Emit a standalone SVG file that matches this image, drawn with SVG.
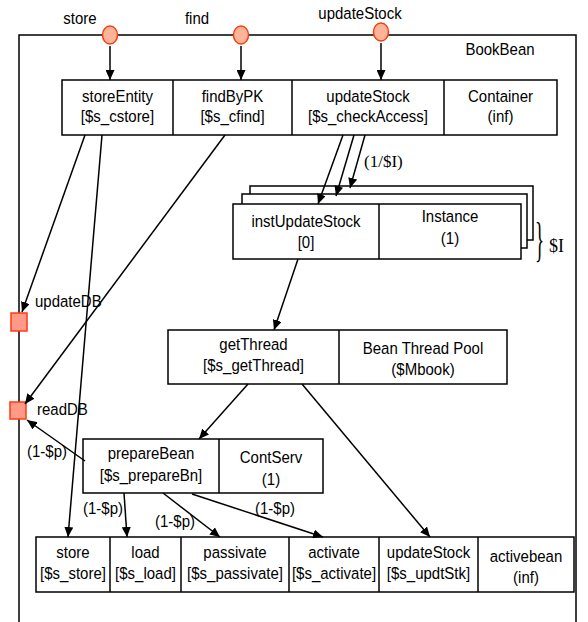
<svg xmlns="http://www.w3.org/2000/svg" width="588" height="622" viewBox="0 0 588 622">
  <defs>
    <marker id="arr" markerUnits="userSpaceOnUse" markerWidth="11" markerHeight="9" refX="10" refY="4.5" orient="auto">
      <path d="M0,0 L10,4.5 L0,9 z" fill="#000"/>
    </marker>
    <style>
      .box { fill: #fff; stroke: #000; stroke-width: 1.5; }
      .div { stroke: #000; stroke-width: 1.5; }
      .t, .tl { font-family: "Liberation Sans", Arial, sans-serif; font-size: 15px; fill: #000;
                transform-box: fill-box; transform-origin: 50% 81%; transform: scaleY(1.12); }
      .t { text-anchor: middle; }
      .s { font-family: "Liberation Serif", "Times New Roman", serif; fill: #000; }
      .port { fill: #FFB49A; stroke: #F04010; stroke-width: 1.5; }
      .db { fill: #FF9A88; stroke: #FF3A10; stroke-width: 1.5; }
      .c { fill: none; stroke: #000; stroke-width: 1.5; marker-end: url(#arr); }
    </style>
  </defs>
  <rect width="588" height="622" fill="#fff"/>

  <!-- BookBean frame -->
  <g id="bookbean">
    <path d="M19,622 V35 H576 V622" fill="none" stroke="#000" stroke-width="1.5"/>
    <text class="t" x="500" y="55">BookBean</text>
  </g>

  <!-- entry ports -->
  <g id="port-store">
    <ellipse class="port" cx="110" cy="35" rx="7.5" ry="9"/>
    <text class="t" x="80" y="24">store</text>
  </g>
  <g id="port-find">
    <ellipse class="port" cx="241" cy="35" rx="7.5" ry="9"/>
    <text class="t" x="197" y="24">find</text>
  </g>
  <g id="port-updateStock">
    <ellipse class="port" cx="381" cy="32" rx="7.5" ry="9"/>
    <text class="t" x="360" y="19">updateStock</text>
  </g>

  <!-- database requests -->
  <g id="updateDB">
    <rect class="db" x="11" y="313" width="16" height="18"/>
    <text class="tl" x="35" y="307">updateDB</text>
  </g>
  <g id="readDB">
    <rect class="db" x="10" y="402" width="16" height="17"/>
    <text class="tl" x="37" y="415">readDB</text>
  </g>

  <!-- Container task -->
  <g id="container">
    <rect class="box" x="62" y="80" width="495" height="55"/>
    <line class="div" x1="173" y1="80" x2="173" y2="135"/>
    <line class="div" x1="292" y1="80" x2="292" y2="135"/>
    <line class="div" x1="444" y1="80" x2="444" y2="135"/>
    <text class="t" x="117.5" y="102">storeEntity</text>
    <text class="t" x="117.5" y="122">[$s_cstore]</text>
    <text class="t" x="232.5" y="102">findByPK</text>
    <text class="t" x="232.5" y="122">[$s_cfind]</text>
    <text class="t" x="368" y="102">updateStock</text>
    <text class="t" x="368" y="122">[$s_checkAccess]</text>
    <text class="t" x="500.5" y="102">Container</text>
    <text class="t" x="500.5" y="122">(inf)</text>
  </g>

  <!-- Instance task (replicated $I times) -->
  <g id="instance">
    <rect class="box" x="250" y="186" width="283" height="54"/>
    <rect class="box" x="242" y="194" width="285" height="54"/>
    <rect class="box" x="233" y="204" width="288" height="55"/>
    <line class="div" x1="379" y1="204" x2="379" y2="259"/>
    <text class="t" x="306" y="227">instUpdateStock</text>
    <text class="t" x="306" y="248">[0]</text>
    <text class="t" x="450" y="222">Instance</text>
    <text class="t" x="450" y="244">(1)</text>
    <text class="s" transform="translate(535,256) scale(1,2.5)" font-size="19">}</text>
    <text class="s" x="549" y="252" font-size="18">$I</text>
  </g>

  <!-- Bean Thread Pool task -->
  <g id="threadpool">
    <rect class="box" x="168" y="330" width="339" height="54"/>
    <line class="div" x1="339" y1="330" x2="339" y2="384"/>
    <text class="t" x="253.5" y="350">getThread</text>
    <text class="t" x="253.5" y="371">[$s_getThread]</text>
    <text class="t" x="423" y="354">Bean Thread Pool</text>
    <text class="t" x="423" y="375">($Mbook)</text>
  </g>

  <!-- ContServ task -->
  <g id="contserv">
    <rect class="box" x="83" y="439" width="240" height="54"/>
    <line class="div" x1="219" y1="439" x2="219" y2="493"/>
    <text class="t" x="151" y="459">prepareBean</text>
    <text class="t" x="151" y="481">[$s_prepareBn]</text>
    <text class="t" x="271" y="463">ContServ</text>
    <text class="t" x="271" y="485">(1)</text>
  </g>

  <!-- activebean task -->
  <g id="activebean">
    <rect class="box" x="36" y="537" width="538" height="55"/>
    <line class="div" x1="110" y1="537" x2="110" y2="592"/>
    <line class="div" x1="181" y1="537" x2="181" y2="592"/>
    <line class="div" x1="289" y1="537" x2="289" y2="592"/>
    <line class="div" x1="379" y1="537" x2="379" y2="592"/>
    <line class="div" x1="478" y1="537" x2="478" y2="592"/>
    <text class="t" x="73" y="558">store</text>
    <text class="t" x="73" y="579">[$s_store]</text>
    <text class="t" x="145.5" y="558">load</text>
    <text class="t" x="145.5" y="579">[$s_load]</text>
    <text class="t" x="235" y="558">passivate</text>
    <text class="t" x="235" y="579">[$s_passivate]</text>
    <text class="t" x="334" y="558">activate</text>
    <text class="t" x="334" y="579">[$s_activate]</text>
    <text class="t" x="428.5" y="558">updateStock</text>
    <text class="t" x="428.5" y="579">[$s_updtStk]</text>
    <text class="t" x="526" y="562">activebean</text>
    <text class="t" x="526" y="583">(inf)</text>
  </g>

  <!-- connectors, drawn over the task boxes -->
  <g id="connectors">
    <line class="c" x1="110" y1="46" x2="110" y2="80"/>
    <line class="c" x1="241" y1="46" x2="241" y2="80"/>
    <line class="c" x1="381" y1="43" x2="381" y2="80"/>
    <line class="c" x1="85" y1="135" x2="22" y2="312"/>
    <line class="c" x1="102" y1="135" x2="68" y2="537"/>
    <line class="c" x1="225" y1="135" x2="25" y2="404"/>
    <line class="c" x1="343" y1="135" x2="318" y2="204"/>
    <line class="c" x1="354" y1="135" x2="336" y2="196"/>
    <line class="c" x1="365" y1="135" x2="350" y2="188"/>
    <line class="c" x1="298" y1="259" x2="274" y2="330"/>
    <line class="c" x1="248" y1="384" x2="199" y2="439"/>
    <line class="c" x1="302" y1="384" x2="430" y2="537"/>
    <line class="c" x1="85" y1="461" x2="27" y2="420"/>
    <line class="c" x1="124" y1="493" x2="127" y2="537"/>
    <line class="c" x1="163" y1="493" x2="220" y2="537"/>
    <line class="c" x1="192" y1="494" x2="323" y2="537"/>
    <text class="tl" x="27" y="457">(1-$p)</text>
    <text class="tl" x="83" y="514">(1-$p)</text>
    <text class="tl" x="155" y="527">(1-$p)</text>
    <text class="tl" x="255" y="514">(1-$p)</text>
    <text class="s" x="364" y="167" font-size="17">(1/$I)</text>
  </g>
</svg>
